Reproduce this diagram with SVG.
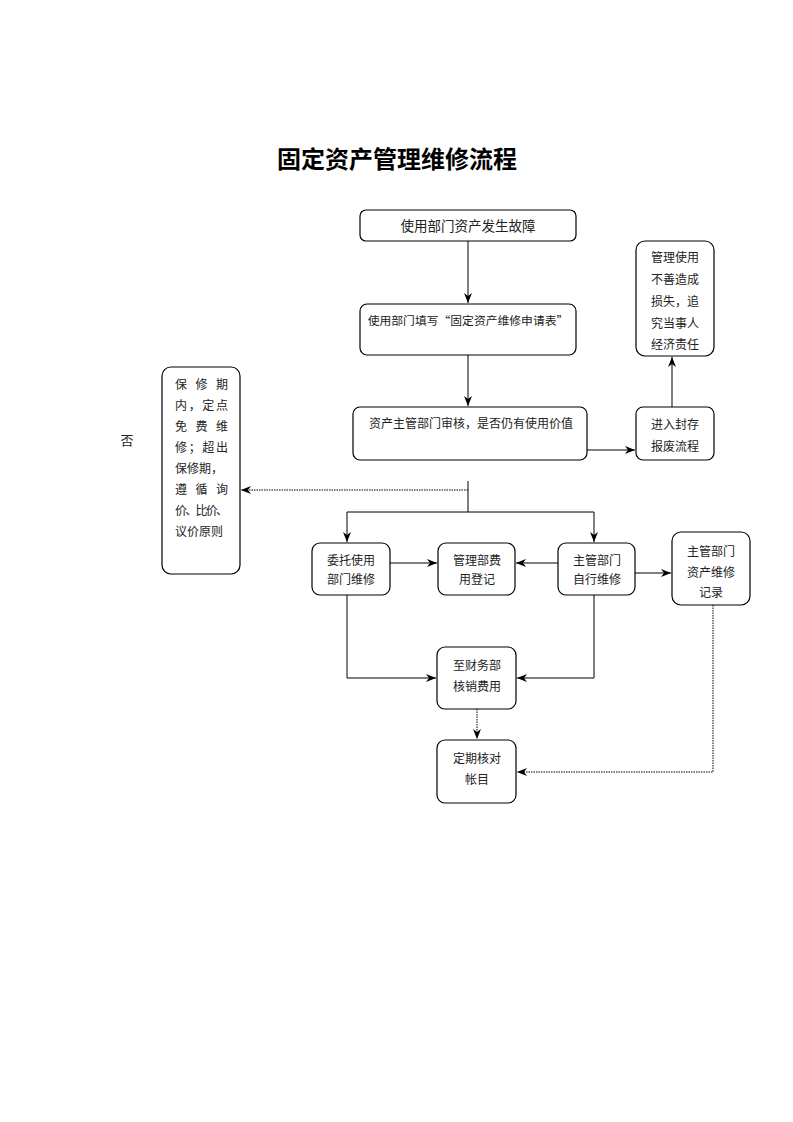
<svg xmlns="http://www.w3.org/2000/svg" width="793" height="1122" viewBox="0 0 793 1122">
<style>
.box{fill:#fff;stroke:#000;stroke-width:1.2}
.t{font-family:"Noto Sans CJK SC","Noto Sans CJK JP",sans-serif;font-size:12px;fill:#222;text-anchor:middle}
.tl{font-family:"Noto Sans CJK SC","Noto Sans CJK JP",sans-serif;font-size:12px;fill:#222}
.ln{fill:none;stroke:#000;stroke-width:1}
.dl{fill:none;stroke:#000;stroke-width:1;stroke-dasharray:1.5,1}
</style>
<defs>
<marker id="ah" viewBox="0 0 10 8" refX="10" refY="4" markerWidth="10" markerHeight="8" markerUnits="userSpaceOnUse" orient="auto">
<path d="M0,0 L10,4 L0,8 L3,4 z" fill="#000"/>
</marker>
</defs>
<rect width="793" height="1122" fill="#fff"/>
<text x="397" y="168" style="font-family:'Noto Sans CJK SC',sans-serif;font-size:24px;font-weight:bold;text-anchor:middle" fill="#000">固定资产管理维修流程</text>
<text x="127" y="445" class="t" style="font-size:13px">否</text>

<g id="connectors">
<path class="ln" d="M468,241 V303" marker-end="url(#ah)"/>
<path class="ln" d="M468,355 V406" marker-end="url(#ah)"/>
<path class="ln" d="M587,450 H635" marker-end="url(#ah)"/>
<path class="ln" d="M672,407 V357" marker-end="url(#ah)"/>
<path class="ln" d="M468,481 V512"/>
<path class="dl" d="M468,490 H241" marker-end="url(#ah)"/>
<path class="ln" d="M347,512 H594"/>
<path class="ln" d="M347,512 V542" marker-end="url(#ah)"/>
<path class="ln" d="M594,512 V542" marker-end="url(#ah)"/>
<path class="ln" d="M390,563 H437" marker-end="url(#ah)"/>
<path class="ln" d="M558,563 H516" marker-end="url(#ah)"/>
<path class="ln" d="M635,573 H671" marker-end="url(#ah)"/>
<path class="ln" d="M347,595 V678 H436" marker-end="url(#ah)"/>
<path class="ln" d="M594,595 V678 H517" marker-end="url(#ah)"/>
<path class="dl" d="M477,709 V739" marker-end="url(#ah)"/>
<path class="dl" d="M713,605 V772 H517" marker-end="url(#ah)"/>
</g>

<g id="n1"><rect class="box" x="360" y="210" width="216" height="31" rx="6"/>
<text x="468" y="231" class="t" style="font-size:13.5px">使用部门资产发生故障</text></g>

<g id="n2"><rect class="box" x="360" y="304" width="216" height="51" rx="7"/>
<text x="468" y="325" class="t" style="font-size:11.8px">使用部门填写“固定资产维修申请表”</text></g>

<g id="n3"><rect class="box" x="353" y="407" width="234" height="53" rx="7"/>
<text x="471" y="428" class="t">资产主管部门审核，是否仍有使用价值</text></g>

<g id="n4"><rect class="box" x="636" y="407" width="78" height="53" rx="7"/>
<text x="675" y="429" class="t">进入封存</text>
<text x="675" y="451" class="t">报废流程</text></g>

<g id="n5"><rect class="box" x="636" y="241" width="78" height="115" rx="9"/>
<text x="675" y="262" class="t">管理使用</text>
<text x="675" y="284" class="t">不善造成</text>
<text x="675" y="306" class="t">损失，追</text>
<text x="675" y="328" class="t">究当事人</text>
<text x="675" y="349" class="t">经济责任</text></g>

<g id="n6"><rect class="box" x="162" y="367" width="78" height="207" rx="9"/>
<text x="175" y="389" class="tl" textLength="53" lengthAdjust="spacing">保修期</text>
<text x="175" y="410" class="tl" textLength="53" lengthAdjust="spacing">内，定点</text>
<text x="175" y="431" class="tl" textLength="53" lengthAdjust="spacing">免费维</text>
<text x="175" y="452" class="tl" textLength="53" lengthAdjust="spacing">修；超出</text>
<text x="175" y="473" class="tl">保修期，</text>
<text x="175" y="494" class="tl" textLength="53" lengthAdjust="spacing">遵循询</text>
<text x="175" y="515" class="tl" textLength="53" lengthAdjust="spacing">价、比价、</text>
<text x="175" y="536" class="tl">议价原则</text></g>

<g id="n7"><rect class="box" x="312" y="543" width="78" height="52" rx="8"/>
<text x="351" y="565" class="t">委托使用</text>
<text x="351" y="584" class="t">部门维修</text></g>

<g id="n8"><rect class="box" x="438" y="543" width="77" height="52" rx="8"/>
<text x="477" y="565" class="t">管理部费</text>
<text x="477" y="584" class="t">用登记</text></g>

<g id="n9"><rect class="box" x="558" y="543" width="77" height="52" rx="8"/>
<text x="597" y="565" class="t">主管部门</text>
<text x="597" y="584" class="t">自行维修</text></g>

<g id="n10"><rect class="box" x="672" y="532" width="78" height="73" rx="9"/>
<text x="711" y="556" class="t">主管部门</text>
<text x="711" y="577" class="t">资产维修</text>
<text x="711" y="597" class="t">记录</text></g>

<g id="n11"><rect class="box" x="437" y="647" width="79" height="62" rx="8"/>
<text x="477" y="670" class="t">至财务部</text>
<text x="477" y="691" class="t">核销费用</text></g>

<g id="n12"><rect class="box" x="437" y="740" width="79" height="63" rx="8"/>
<text x="477" y="763" class="t">定期核对</text>
<text x="477" y="784" class="t">帐目</text></g>
</svg>
